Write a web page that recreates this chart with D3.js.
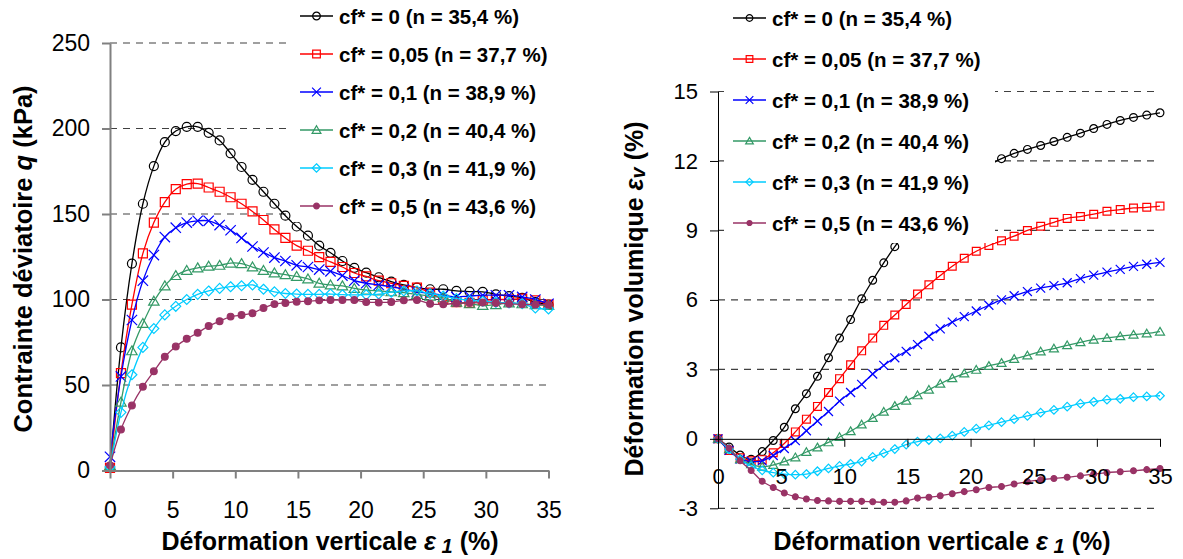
<!DOCTYPE html>
<html>
<head>
<meta charset="utf-8">
<script src="https://cdn.jsdelivr.net/npm/d3@7"></script>
<style>
  html, body { margin: 0; padding: 0; background: #fff; }
  svg { display: block; }
  text { font-family: "Liberation Sans", Arial, sans-serif; }
</style>
</head>
<body>
<svg id="chart" width="1183" height="559"></svg>
<script>
// ---------------- DATA ----------------
const legendLabels = [
  "cf* = 0 (n = 35,4 %)",
  "cf* = 0,05 (n = 37,7 %)",
  "cf* = 0,1 (n = 38,9 %)",
  "cf* = 0,2 (n = 40,4 %)",
  "cf* = 0,3 (n = 41,9 %)",
  "cf* = 0,5 (n = 43,6 %)"
];
// vertical strain (%) of the measured points
const strain = [0,0.875,1.75,2.625,3.5,4.375,5.25,6.125,7,7.875,8.75,9.625,10.5,11.375,12.25,13.125,14,
  14.9,15.8,16.7,17.6,18.55,19.5,20.45,21.45,22.45,23.45,24.5,25.55,26.6,27.65,28.7,29.75,30.8,31.85,32.9,33.95,35];

// deviatoric stress q (kPa)
const q_cf0   = [2,72,121,156,178,192,198.5,201,201,197.5,193,185.5,177.5,170,163,156,149,142.7,137.3,131.5,127.3,122.5,118.5,115.7,113,110.5,108.5,107,106,106,105,104.6,104.5,103,102,101,98.5,97];
const q_cf005 = [1.5,57,97,127,145,157,164.5,167.5,167.8,165.5,163,159.8,156,151.5,146.5,141,136,131.5,128.5,124.8,122,119,115.5,113.5,111,109.5,108,107,104,100,98.5,98,99.5,100,100,100.5,99.5,97];
const q_cf01  = [8,55,88,111,126,136.5,142,145,146,146,143.5,140.5,136,131,127.5,124.5,122.5,120,119,117.5,116.5,114,111,109.5,108.5,107.5,106,104.5,103.5,102.5,101.5,102,102.5,102.5,102.5,101.5,100,97.5];
const q_cf02  = [3,40,70,86,99,108,114,117,118.5,119.5,120,121.3,121,119,117,115.5,114.5,113.5,112,109.5,108.5,108,106.5,105.5,105,104.5,104,103,102,101,98.5,97.5,96.5,97,98,97.5,97,96.5];
const q_cf03  = [2,34,56,72,83,91,96,100,103,105,106.5,107.5,108,108.5,106,104.5,103.5,103.2,103,103,103.2,102.8,102.7,102.8,103.2,104.3,105,105,103.5,102,100.5,99.5,99,98.3,98,97.5,95,94.5];
const q_cf05  = [3,24,38,49,58,66.5,72.5,77,80.5,84.5,87.3,90,90.9,92,95,97.3,98,98.7,99,99.5,99.7,99.7,99.7,98.5,98.3,98.5,99.5,99.7,97.5,97.2,97.8,98,98.2,98,97.5,97.2,97,97];

// volumetric strain εv (%)
const ev_cf0   = [0,-0.35,-0.7,-0.88,-0.55,-0.07,0.5,1.3,1.95,2.7,3.5,4.35,5.15,6.05,6.85,7.6,8.3,8.95,9.55,10.05,10.5,10.9,11.25,11.55,11.82,12.1,12.33,12.5,12.67,12.84,13.02,13.2,13.4,13.58,13.75,13.88,13.98,14.08];
const ev_cf005 = [0,-0.5,-0.82,-0.95,-0.9,-0.6,-0.2,0.3,0.85,1.4,2.0,2.6,3.2,3.8,4.35,4.9,5.35,5.8,6.25,6.65,7.05,7.45,7.8,8.1,8.35,8.55,8.75,9.0,9.18,9.35,9.52,9.6,9.7,9.83,9.9,9.97,10.0,10.05];
const ev_cf01  = [0,-0.5,-0.88,-0.98,-0.95,-0.72,-0.42,-0.08,0.35,0.77,1.18,1.63,2.0,2.35,2.8,3.17,3.5,3.78,4.07,4.43,4.75,5.04,5.28,5.52,5.77,6.0,6.18,6.36,6.51,6.62,6.74,6.92,7.07,7.2,7.32,7.45,7.54,7.62];
const ev_cf02  = [0,-0.45,-0.88,-1.1,-1.2,-1.13,-0.98,-0.8,-0.57,-0.37,-0.15,0.08,0.33,0.62,0.9,1.17,1.42,1.65,1.88,2.12,2.38,2.62,2.82,2.98,3.15,3.28,3.45,3.6,3.77,3.9,4.04,4.17,4.28,4.36,4.43,4.5,4.55,4.63];
const ev_cf03  = [0,-0.45,-0.88,-1.18,-1.36,-1.46,-1.52,-1.55,-1.52,-1.4,-1.28,-1.17,-1.08,-0.98,-0.78,-0.62,-0.44,-0.25,-0.12,-0.05,0.02,0.14,0.3,0.44,0.58,0.72,0.85,0.99,1.13,1.25,1.39,1.52,1.6,1.69,1.73,1.8,1.83,1.86];
const ev_cf05  = [0,-0.4,-0.95,-1.37,-1.83,-2.1,-2.34,-2.5,-2.6,-2.66,-2.68,-2.7,-2.7,-2.7,-2.72,-2.74,-2.74,-2.68,-2.56,-2.52,-2.46,-2.37,-2.28,-2.2,-2.1,-2.06,-1.95,-1.85,-1.77,-1.71,-1.66,-1.6,-1.52,-1.46,-1.42,-1.38,-1.33,-1.28];

const xTicks = [0,5,10,15,20,25,30,35];
const qTicks = [0,50,100,150,200,250];
const evTicks = [-3,0,3,6,9,12,15];

// ---------------- STYLE ----------------
const seriesStyle = [
  {color:"#000000", marker:"circle"},
  {color:"#FF0000", marker:"square"},
  {color:"#0000FF", marker:"x"},
  {color:"#339966", marker:"triangle"},
  {color:"#00CCFF", marker:"diamond"},
  {color:"#993366", marker:"dot"}
];
const qSeries = [q_cf0,q_cf005,q_cf01,q_cf02,q_cf03,q_cf05];
const evSeries = [ev_cf0,ev_cf005,ev_cf01,ev_cf02,ev_cf03,ev_cf05];

const svg = d3.select("#chart");

function markerPath(type, s) {
  const p = d3.path();
  if (type === "circle") { p.moveTo(s,0); p.arc(0,0,s,0,2*Math.PI); }
  else if (type === "dot") { const r = s*0.75; p.moveTo(r,0); p.arc(0,0,r,0,2*Math.PI); }
  else if (type === "square") { p.rect(-s,-s,2*s,2*s); }
  else if (type === "x") { const a = s*1.15; p.moveTo(-a,-a); p.lineTo(a,a); p.moveTo(-a,a); p.lineTo(a,-a); }
  else if (type === "triangle") { const a = s*1.1; p.moveTo(0,-a); p.lineTo(a*1.05,a*0.8); p.lineTo(-a*1.05,a*0.8); p.closePath(); }
  else if (type === "diamond") { const a = s*1.1; p.moveTo(0,-a); p.lineTo(a,0); p.lineTo(0,a); p.lineTo(-a,0); p.closePath(); }
  return p.toString();
}
function drawMarker(g, type, color, x, y, s) {
  g.append("path")
    .attr("transform", `translate(${x},${y})`)
    .attr("d", markerPath(type, s))
    .attr("fill", type === "dot" ? color : "none")
    .attr("stroke", color)
    .attr("stroke-width", 1.2);
}

function buildPanel(cfg) {
  const g = svg.append("g");
  const x = d3.scaleLinear().domain([0,35]).range(cfg.xRange);
  const y = d3.scaleLinear().domain(cfg.yDomain).range(cfg.yRange);

  // gridlines
  g.append("g").selectAll("line").data(cfg.gridVals).join("line")
    .attr("x1", x(0)).attr("x2", x(35))
    .attr("y1", d => y(d)).attr("y2", d => y(d))
    .attr("stroke", "#404040").attr("stroke-width", 1.2)
    .attr("stroke-dasharray", "7,6");

  // series
  const line = d3.line().x(d => x(d[0])).y(d => y(d[1])).curve(d3.curveCatmullRom.alpha(0.5));
  cfg.series.forEach((vals, i) => {
    const st = seriesStyle[i];
    const pts = strain.map((s, k) => [s, vals[k]]);
    g.append("path").attr("d", line(pts)).attr("fill", "none")
      .attr("stroke", st.color).attr("stroke-width", 1.3);
    const mg = g.append("g");
    pts.forEach(p => drawMarker(mg, st.marker, st.color, x(p[0]), y(p[1]), cfg.msize));
  });

  // legend box (white, covers plot)
  g.append("rect").attr("x", cfg.legend.box[0]).attr("y", cfg.legend.box[1])
    .attr("width", cfg.legend.box[2]).attr("height", cfg.legend.box[3]).attr("fill", "#fff");
  legendLabels.forEach((lab, i) => {
    const cy = cfg.legend.y0 + i * cfg.legend.dy;
    const st = seriesStyle[i];
    g.append("line").attr("x1", cfg.legend.x0).attr("x2", cfg.legend.x0 + 33)
      .attr("y1", cy).attr("y2", cy).attr("stroke", st.color).attr("stroke-width", 1.5);
    drawMarker(g, st.marker, st.color, cfg.legend.x0 + 16.5, cy, cfg.msize * 0.85);
    g.append("text").attr("x", cfg.legend.x0 + 39).attr("y", cy + 7.5)
      .attr("font-size", 20.5).attr("font-weight", "bold").attr("fill", "#000").text(lab);
  });

  // axes
  const xAxis = d3.axisBottom(x).tickValues(xTicks).tickSize(8).tickSizeOuter(0)
    .tickPadding(cfg.xPad).tickFormat(d => String(d));
  const ga = g.append("g").attr("transform", `translate(0,${y(cfg.xAxisAt)})`).call(xAxis);
  const yAxis = d3.axisLeft(y).tickValues(cfg.yTicks).tickSize(8).tickSizeOuter(0)
    .tickPadding(12).tickFormat(d => String(d));
  const gy = g.append("g").attr("transform", `translate(${x(0)},0)`).call(yAxis);
  [ga, gy].forEach(a => {
    a.selectAll("path.domain").attr("stroke", cfg.axisColor).attr("stroke-width", cfg.axisWidth);
    a.selectAll(".tick line").attr("stroke", cfg.axisColor).attr("stroke-width", cfg.axisWidth);
    a.selectAll(".tick text").attr("font-size", cfg.tickFont).attr("fill", "#000")
      .attr("font-family", '"Liberation Sans", Arial, sans-serif');
  });
  return {x, y};
}

// Left panel
buildPanel({
  xRange: [110, 548.5], yDomain: [0,250], yRange: [470.5, 43],
  gridVals: [50,100,150,200,250], yTicks: qTicks, xAxisAt: 0,
  series: qSeries, msize: 4.5, xPad: 23, tickFont: 23,
  axisColor: "#808080", axisWidth: 2,
  legend: {box:[292,0,270,222], x0:300, y0:16, dy:38}
});

// Right panel
buildPanel({
  xRange: [718, 1160], yDomain: [-3,15], yRange: [508.3, 91.5],
  gridVals: [-3,3,6,9,12,15], yTicks: evTicks, xAxisAt: 0,
  series: evSeries, msize: 3.9, xPad: 22, tickFont: 22,
  axisColor: "#000", axisWidth: 1,
  legend: {box:[724,0,271,243], x0:733, y0:18, dy:41}
});

// Axis titles
function xTitle(cx) {
  const t = svg.append("text").attr("x", cx).attr("y", 550).attr("text-anchor", "middle")
    .attr("font-size", 25).attr("font-weight", "bold");
  t.append("tspan").text("Déformation verticale ");
  t.append("tspan").attr("font-style", "italic").text("ε");
  t.append("tspan").attr("font-style", "italic").attr("font-size", 20).attr("dy", 3).text(" 1");
  t.append("tspan").attr("dy", -3).text(" (%)");
}
xTitle(330);
xTitle(942);

const yt1 = svg.append("text").attr("transform", "translate(32,259) rotate(-90)")
  .attr("text-anchor", "middle").attr("font-size", 25.5).attr("font-weight", "bold");
yt1.append("tspan").text("Contrainte déviatoire ");
yt1.append("tspan").attr("font-style", "italic").text("q");
yt1.append("tspan").text(" (kPa)");

const yt2 = svg.append("text").attr("transform", "translate(643,299) rotate(-90)")
  .attr("text-anchor", "middle").attr("font-size", 25).attr("font-weight", "bold");
yt2.append("tspan").text("Déformation volumique  ");
yt2.append("tspan").attr("font-style", "italic").text("ε");
yt2.append("tspan").attr("font-style", "italic").attr("font-size", 20).attr("dy", 2).text("v");
yt2.append("tspan").attr("dy", -2).text(" (%)");
</script>
</body>
</html>
